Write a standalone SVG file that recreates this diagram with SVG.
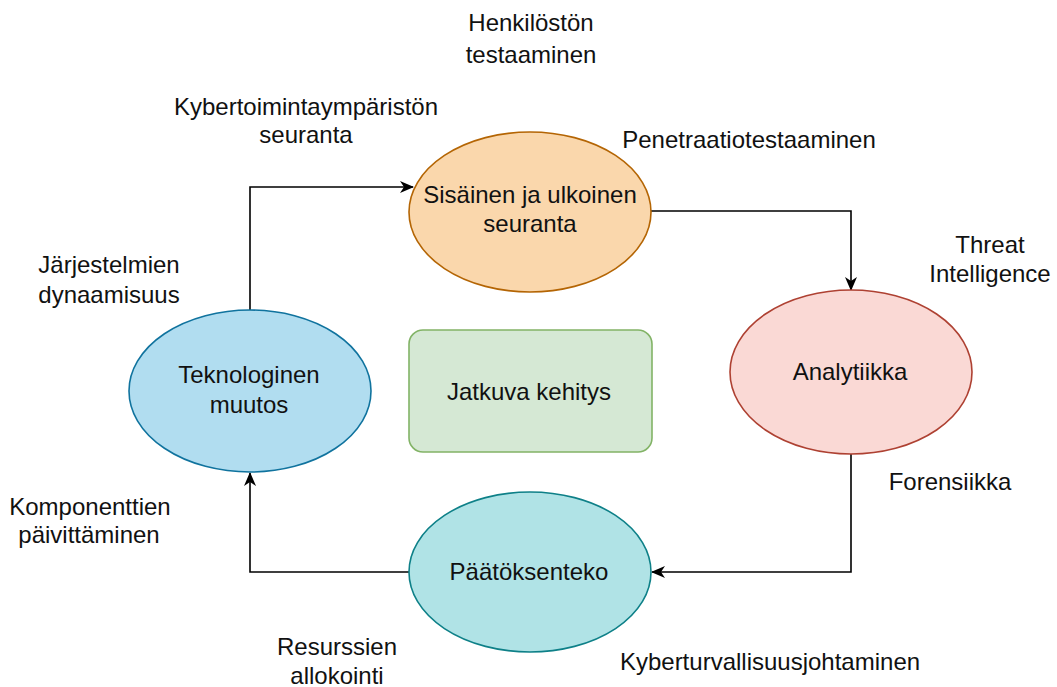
<svg xmlns="http://www.w3.org/2000/svg" width="1057" height="687" viewBox="0 0 1057 687">
<style>
text{font-family:"Liberation Sans",Arial,sans-serif;font-size:24px;fill:#111;text-anchor:middle}
.conn{fill:none;stroke:#000;stroke-width:1.6}
.node{stroke-width:1.6}
</style>
<defs>
<marker id="arr" markerUnits="userSpaceOnUse" viewBox="0 0 14 12" markerWidth="14" markerHeight="12" refX="13" refY="6" orient="auto">
<path d="M0,0 L14,6 L0,12 L4,6 Z" fill="#000"/>
</marker>
</defs>
<rect width="1057" height="687" fill="#fff"/>
<g id="connectors">
<path class="conn" d="M250,310 V187 H413" marker-end="url(#arr)"/>
<path class="conn" d="M651,211 H851 V290" marker-end="url(#arr)"/>
<path class="conn" d="M851,454 V572 H652" marker-end="url(#arr)"/>
<path class="conn" d="M409,572 H250 V473" marker-end="url(#arr)"/>
</g>
<g id="sisainen">
<ellipse class="node" cx="530" cy="212" rx="121" ry="80" fill="#fad7ac" stroke="#b46504"/>
<text x="530" y="203">Sisäinen ja ulkoinen</text>
<text x="530" y="232">seuranta</text>
</g>
<g id="analytiikka">
<ellipse class="node" cx="851" cy="372" rx="121" ry="82" fill="#fad9d5" stroke="#ae4132"/>
<text x="850" y="380">Analytiikka</text>
</g>
<g id="teknologinen">
<ellipse class="node" cx="250" cy="391" rx="121" ry="81" fill="#b1ddf0" stroke="#10739e"/>
<text x="249" y="383">Teknologinen</text>
<text x="249" y="413">muutos</text>
</g>
<g id="jatkuva">
<rect class="node" x="409" y="330" width="243" height="122" rx="14" fill="#d5e8d4" stroke="#82b366"/>
<text x="529" y="400">Jatkuva kehitys</text>
</g>
<g id="paatoksenteko">
<ellipse class="node" cx="530" cy="572" rx="121" ry="80" fill="#b0e3e6" stroke="#0e8088"/>
<text x="529" y="580">Päätöksenteko</text>
</g>
<g id="labels">
<text x="531" y="31">Henkilöstön</text>
<text x="531" y="63">testaaminen</text>
<text x="306" y="115">Kybertoimintaympäristön</text>
<text x="306" y="143">seuranta</text>
<text x="749" y="148">Penetraatiotestaaminen</text>
<text x="990" y="253">Threat</text>
<text x="990" y="282">Intelligence</text>
<text x="109" y="273">Järjestelmien</text>
<text x="109" y="303">dynaamisuus</text>
<text x="90" y="515">Komponenttien</text>
<text x="89" y="543">päivittäminen</text>
<text x="950" y="490">Forensiikka</text>
<text x="337" y="655">Resurssien</text>
<text x="337" y="684">allokointi</text>
<text x="770" y="670">Kyberturvallisuusjohtaminen</text>
</g>
</svg>
